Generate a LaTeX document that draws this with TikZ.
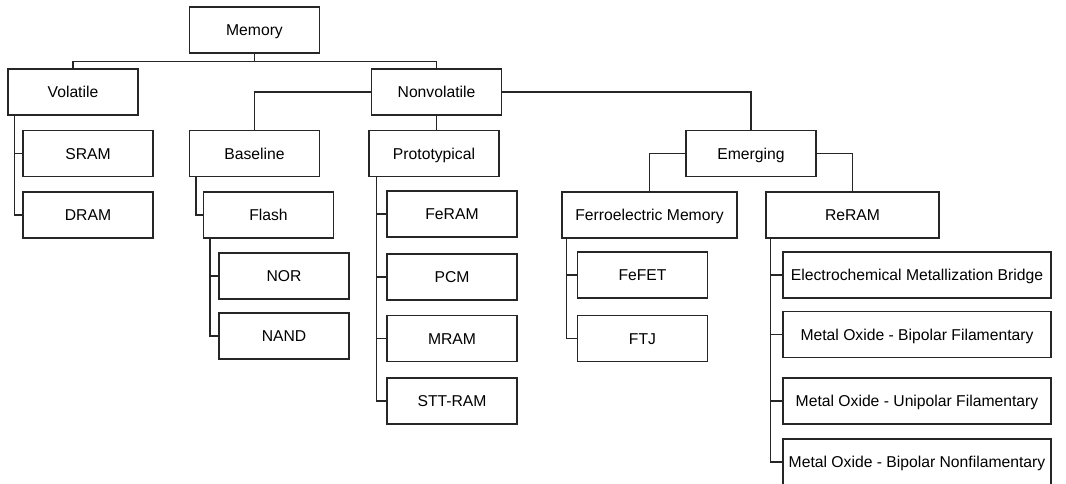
\documentclass[tikz,border=0pt]{standalone}
\usepackage{fontspec}
\setmainfont{Liberation Sans}
\begin{document}
\begin{tikzpicture}[x=1pt,y=-1pt,line width=1.3pt,
  box/.style={draw=black!85,minimum width=130pt,minimum height=46pt,inner sep=0pt,
    text height=11.6pt,text depth=0pt,font=\fontsize{15.7}{18}\selectfont},
  link/.style={draw=black!85,line width=1.3pt}]
\useasboundingbox (0,0) rectangle (1066,484);

\node[box] (mem) at (254.5,30) {Memory};
\node[box] (vol) at (73,92) {Volatile};
\node[box] (nonvol) at (436.5,92) {Nonvolatile};

\node[box] (sram) at (88,153.5) {SRAM};
\node[box] (dram) at (88,215) {DRAM};

\node[box] (base) at (254.5,153.5) {Baseline};
\node[box] (flash) at (268.5,215) {Flash};
\node[box] (nor) at (284,276) {NOR};
\node[box] (nand) at (284,336) {NAND};

\node[box] (proto) at (434,153.5) {Prototypical};
\node[box] (feram) at (452,214) {FeRAM};
\node[box] (pcm) at (452,277) {PCM};
\node[box] (mram) at (452,338.5) {MRAM};
\node[box] (sttram) at (452,401) {STT-RAM};

\node[box] (emerg) at (751,153.5) {Emerging};
\node[box,minimum width=175pt] (ferro) at (649.5,215) {Ferroelectric Memory};
\node[box,minimum width=173pt] (reram) at (852.5,215) {ReRAM};
\node[box] (fefet) at (642.5,275) {FeFET};
\node[box] (ftj) at (642.5,338.5) {FTJ};
\node[box,minimum width=268pt] (ecm) at (917,275) {Electrochemical Metallization Bridge};
\node[box,minimum width=268pt] (mobf) at (917,334.5) {Metal Oxide - Bipolar Filamentary};
\node[box,minimum width=268pt] (mouf) at (917,401) {Metal Oxide - Unipolar Filamentary};
\node[box,minimum width=268pt] (mobn) at (917,462) {Metal Oxide - Bipolar Nonfilamentary};

\draw[link] (mem.south) -- ++(0,8) -| (vol.north);
\draw[link] (mem.south) -- ++(0,8) -| (nonvol.north);
\draw[link] ([xshift=7pt]vol.south west) |- (sram.west);
\draw[link] ([xshift=7pt]vol.south west) |- (dram.west);

\draw[link] (nonvol.west) -| (base.north);
\draw[link] (nonvol.south) -- (nonvol.south |- proto.north);
\draw[link] (nonvol.east) -| (emerg.north);

\draw[link] ([xshift=7pt]base.south west) |- (flash.west);
\draw[link] ([xshift=7pt]flash.south west) |- (nor.west);
\draw[link] ([xshift=7pt]flash.south west) |- (nand.west);

\foreach \n in {feram,pcm,mram,sttram}
  \draw[link] ([xshift=8pt]proto.south west) |- (\n.west);

\draw[link] (emerg.west) -| (ferro.north);
\draw[link] (emerg.east) -| (reram.north);
\draw[link] ([xshift=5pt]ferro.south west) |- (fefet.west);
\draw[link] ([xshift=5pt]ferro.south west) |- (ftj.west);
\foreach \n in {ecm,mobf,mouf,mobn}
  \draw[link] ([xshift=5pt]reram.south west) |- (\n.west);
\end{tikzpicture}
\end{document}
